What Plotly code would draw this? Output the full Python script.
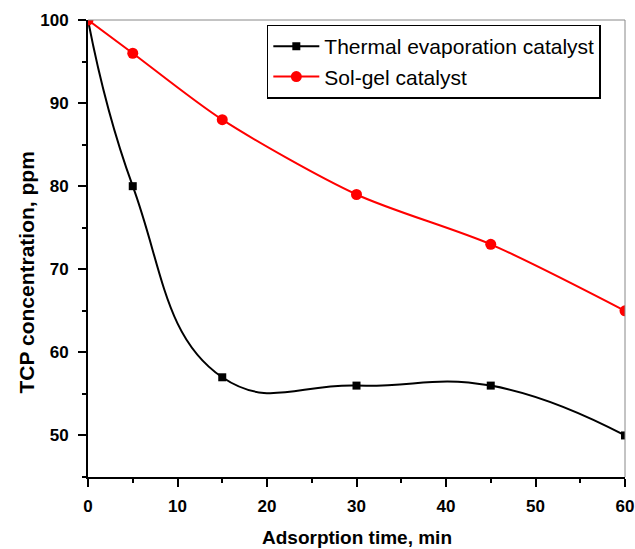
import plotly.graph_objects as go

time_min = [0, 5, 15, 30, 45, 60]
thermal = [100, 80, 57, 56, 56, 50]
solgel = [100, 96, 88, 79, 73, 65]

x_ticks = [0, 10, 20, 30, 40, 50, 60]
y_ticks = [50, 60, 70, 80, 90, 100]

FONT = "Liberation Sans"

fig = go.Figure()
fig.add_trace(go.Scatter(
    x=time_min, y=thermal, name="Thermal evaporation catalyst",
    mode="lines+markers",
    line=dict(color="black", width=2, shape="spline", smoothing=1.3),
    marker=dict(symbol="square", size=8, color="black"),
))
fig.add_trace(go.Scatter(
    x=time_min, y=solgel, name="Sol-gel catalyst",
    mode="lines+markers",
    line=dict(color="#ff0000", width=2, shape="spline", smoothing=0.8),
    marker=dict(symbol="circle", size=11, color="#ff0000"),
))

axis_common = dict(
    showline=True, linecolor="black", linewidth=2,
    ticks="outside", ticklen=8, tickwidth=2, tickcolor="black",
    showgrid=False, zeroline=False, automargin=False,
    tickfont=dict(family=FONT, size=17, color="black", weight="bold"),
    minor=dict(ticks="outside", ticklen=4, tickwidth=2, tickcolor="black", dtick=5),
)

fig.update_layout(
    width=635, height=549,
    margin=dict(l=88, r=10, t=20, b=72),
    paper_bgcolor="white", plot_bgcolor="white",
    font=dict(family=FONT, color="black"),
    showlegend=True,
    legend=dict(
        x=0.333, y=0.99, xanchor="left", yanchor="top",
        bordercolor="black", borderwidth=1.5, bgcolor="white",
        font=dict(family=FONT, size=21, color="black"),
        tracegroupgap=0, itemwidth=46,
    ),
    xaxis=dict(range=[0, 60], tickvals=x_ticks, ticklabelstandoff=5, **axis_common),
    yaxis=dict(range=[45, 100], tickvals=y_ticks, ticklabelstandoff=6, **axis_common),
    shapes=[
        dict(type="line", xref="paper", yref="paper", x0=0, x1=1, y0=1, y1=1,
             line=dict(color="#888888", width=1)),
        dict(type="line", xref="paper", yref="paper", x0=1, x1=1, y0=0, y1=1,
             line=dict(color="#888888", width=1)),
    ],
    annotations=[
        dict(text="Adsorption time, min", xref="paper", yref="paper",
             x=0.5, y=0, yshift=-60, xanchor="center", yanchor="middle",
             showarrow=False, font=dict(family=FONT, size=19, weight="bold", color="black")),
        dict(text="TCP concentration, ppm", xref="paper", yref="paper",
             x=0, y=0.5, xshift=-62, yshift=-24, textangle=-90,
             xanchor="center", yanchor="middle",
             showarrow=False, font=dict(family=FONT, size=21, weight="bold", color="black")),
    ],
)

fig.write_html("out.html")
